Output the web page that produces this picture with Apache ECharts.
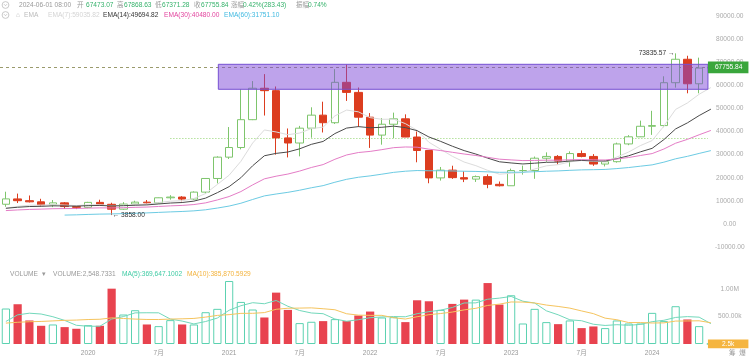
<!DOCTYPE html>
<html><head><meta charset="utf-8">
<script src="https://cdn.jsdelivr.net/npm/echarts@6/dist/echarts.min.js"></script>
<style>html,body{margin:0;padding:0;background:#fff}#c{width:753px;height:363px}</style>
</head><body><div id="c"></div>
<script>
// ---------- data ----------
const months = ['2019-06','2019-07','2019-08','2019-09','2019-10','2019-11','2019-12',
'2020-01','2020-02','2020-03','2020-04','2020-05','2020-06','2020-07','2020-08','2020-09','2020-10','2020-11','2020-12',
'2021-01','2021-02','2021-03','2021-04','2021-05','2021-06','2021-07','2021-08','2021-09','2021-10','2021-11','2021-12',
'2022-01','2022-02','2022-03','2022-04','2022-05','2022-06','2022-07','2022-08','2022-09','2022-10','2022-11','2022-12',
'2023-01','2023-02','2023-03','2023-04','2023-05','2023-06','2023-07','2023-08','2023-09','2023-10','2023-11','2023-12',
'2024-01','2024-02','2024-03','2024-04','2024-05','2024-06'];
const opens = [8545,10854,10085,9588,8289,9140,7540,7195,9351,8523,6412,8620,9448,9138,11335,11649,10776,13791,19695,28923,33092,45134,58739,57697,37253,35045,41461,47100,43820,61300,56950,46216,38466,43160,45510,37630,31801,19942,23297,20048,19422,20491,17165,16541,23125,23141,28465,29233,27210,30472,29232,25941,26962,34640,37724,42283,42580,61131,71281,60672,67473.07];
const closes = [10855,10085,9587,8289,9140,7541,7195,9352,8523,6410,8620,9448,9138,11335,11649,10776,13791,19695,28923,33092,45135,58740,57694,37253,35045,41461,47100,43824,61299,56950,46216,38466,43160,45510,37630,31801,19942,23293,20050,19422,20491,17164,16542,23125,23141,28465,29233,27210,30472,29232,25941,26962,34639,37724,42283,42580,61130,71280,60672,67472.41,67755.84];
const lows = [7444,9072,9320,7710,7300,6515,6435,6871,8445,3858,6150,8117,8833,8893,10518,9825,10374,13195,17572,28130,32296,44950,46930,30000,28805,29278,37332,39600,43283,53256,42000,32917,34322,37155,37578,26700,17622,18781,19520,18125,18190,15476,16256,16499,21351,19549,26942,25811,24800,28861,25166,24901,26538,34097,37617,38555,41884,59005,56552,56552,67371.28];
const highs = [13970,13147,12325,10905,10370,9513,7750,9578,10500,9188,9460,10067,10380,11444,12468,12050,14100,19863,29300,41950,58352,61844,64854,59500,41330,42448,50500,52920,67000,69000,59053,47990,45821,48189,47444,40023,31986,24668,25211,22799,20988,21480,18387,23960,25250,29184,31000,29820,31431,31804,30244,27484,35198,38450,44729,48969,63913,73835.57,72797,71979,67868.63];
const ema7 = [6800,7621,8113,8157,8403,8187,7939,8292,8350,7865,8054,8403,8587,9274,9868,10095,11019,13188,17122,21115,27120,35025,40692,39832,38635,39342,41282,41918,46763,49310,48536,46018,45303,45355,43424,40518,35374,32354,29278,26814,25233,23216,21547,21942,22242,23798,25157,25670,26871,27461,27081,27051,28948,31142,33927,36090,42350,49583,52355,56134,59035.82];
const ema14 = [6800,7238,7551,7649,7848,7807,7725,7942,8019,7805,7914,8119,8255,8666,9064,9292,9892,11199,13562,16166,20028,25189,29523,30554,31153,32527,34470,35717,39128,41504,42132,41643,41845,42334,41707,40386,37660,35745,33652,31755,30253,28508,26913,26408,25972,26304,26694,26763,27257,27520,27310,27264,28247,29510,31213,32728,36515,41150,43753,46915,49694.82];
const ema30 = [5800,6076,6303,6431,6606,6666,6700,6871,6978,6941,7049,7204,7329,7587,7849,8038,8409,9137,10414,11877,14023,16908,19540,20683,21610,22891,24453,25703,28000,29868,30923,31410,32168,33029,33326,33228,32371,31785,31028,30279,29647,28842,28048,27730,27434,27501,27613,27587,27773,27867,27743,27693,28141,28759,29632,30467,32445,34951,36610,38603,40480.00];
const ema60 = ['-','-','-','-','-',3850,3960,4137,4281,4351,4491,4653,4800,5014,5231,5413,5687,6146,6893,7752,8978,10609,12154,12976,13700,14610,15676,16598,18064,19339,20220,20818,21551,22336,22837,23131,23027,23036,22938,22822,22745,22562,22365,22390,22414,22612,22830,22974,23220,23416,23499,23612,23974,24425,25010,25586,26752,28212,29277,30531,31751.10];
const volumes = [645000,723000,428000,331000,355000,307000,277000,343000,331000,1006000,536000,614000,355000,325000,434000,355000,355000,578000,639000,1145000,765000,627000,482000,934000,620000,380000,404000,416000,452000,416000,518000,590000,482000,488000,398000,795000,777000,620000,729000,807000,807000,1108000,717000,886000,373000,639000,398000,361000,428000,289000,319000,289000,428000,373000,373000,566000,416000,687000,446000,325000,2548.7331];
const volMA5 = [410000,530000,560000,545000,496000,429000,340000,323000,323000,453000,499000,566000,568000,567000,453000,417000,365000,409000,472000,614000,696000,751000,732000,791000,686000,609000,564000,551000,454000,414000,441000,478000,492000,499000,495000,551000,588000,616000,664000,746000,748000,814000,834000,865000,778000,745000,603000,531000,440000,423000,359000,337000,351000,340000,356000,406000,431000,483000,498000,488000,369647.1002];
const volMA10 = [380000,395000,405000,410000,420000,430000,435000,445000,450000,475000,464000,453000,446000,445000,453000,458000,465000,489000,520000,534000,557000,558000,571000,631000,650000,653000,657000,641000,623000,550000,525000,521000,521000,477000,454000,496000,533000,554000,581000,620000,649000,701000,725000,764000,762000,746000,708000,683000,652000,601000,552000,470000,441000,390000,390000,382000,384000,417000,419000,422000,385870.5929];
// user drawings (data space): rectangle, support line
const boxX = [18.08, 59.75], boxY = [58290, 69100];
const supportStartX = 14, supportY = 36900, drawEndX = 59.75;

// ---------- styling ----------
const FONT = "'Liberation Sans', Arial, 'Noto Sans CJK SC', sans-serif";
const FS = 6.6;
const RED = '#dc3d1f', GREEN = '#7ec56c', VRED = '#e8434f', VGREEN = '#5cd2b1';
const last = months.length - 1;

const candleData = months.map((m, i) => [opens[i], closes[i], lows[i], highs[i]]);
const volData = volumes.map((v, i) => ({
  value: v,
  itemStyle: closes[i] >= opens[i] ? {color: '#fff', borderColor: VGREEN, borderWidth: 1} : {color: VRED}
}));

function T(text, left, top, color) {
  return {text, left, top, padding: 0, textStyle: {fontSize: FS, fontWeight: 'normal', color, fontFamily: FONT, lineHeight: 9}};
}
const G = '#999', V = '#35b26b';
const titles = [
  T('2024-06-01 08:00', 19, 0.5, G),
  T('开', 77, 0.5, G), T(opens[last].toFixed(2), 86, 0.5, V),
  T('高', 117, 0.5, G), T(highs[last].toFixed(2), 124, 0.5, V),
  T('低', 155, 0.5, G), T(lows[last].toFixed(2), 162, 0.5, V),
  T('收', 194, 0.5, G), T(closes[last].toFixed(2), 201, 0.5, V),
  T('涨幅', 231, 0.5, G), T('0.42%(283.43)', 243, 0.5, V),
  T('振幅', 296, 0.5, G), T('0.74%', 308, 0.5, V),
  T('⌂', 16, 10.5, '#bbb'), T('EMA', 24, 10.5, '#bbb'),
  T('EMA(7):' + ema7[last].toFixed(2), 48, 10.5, '#d4d4d4'),
  T('EMA(14):' + ema14[last].toFixed(2), 103, 10.5, '#333'),
  T('EMA(30):' + ema30[last].toFixed(2), 164, 10.5, '#e2449e'),
  T('EMA(60):' + ema60[last].toFixed(2), 224, 10.5, '#3fb9e0'),
  T('VOLUME', 10, 270, G), T('▾', 42, 270, G),
  T('VOLUME:2,548.7331', 53, 270, G),
  T('MA(5):369,647.1002', 122, 270, '#3fcba4'),
  T('MA(10):385,870.5929', 187, 270, '#f3b33d'),
  T('筹  爆', 729, 348.5, G)
];
const icons = [0, 1].map(k => ({
  type: 'group', children: [
    {type: 'circle', shape: {cx: 5.5, cy: 5 + k * 10, r: 3.4}, style: {fill: 'none', stroke: '#bbb', lineWidth: 0.8}},
    {type: 'polyline', shape: {points: [[4, 4.2 + k * 10], [5.5, 5.7 + k * 10], [7, 4.2 + k * 10]]}, style: {fill: 'none', stroke: '#bbb', lineWidth: 0.8}}
  ]
}));

const yLbl = {fontSize: FS, color: '#aaa', fontFamily: FONT, align: 'center', margin: 13};
const lineS = (name, data, color) => ({
  name, type: 'line', data, xAxisIndex: 0, yAxisIndex: 0, symbol: 'none', showSymbol: false, z: 3,
  lineStyle: {width: 1, color}, itemStyle: {color}, silent: true
});

const option = {
  animation: false,
  backgroundColor: '#fff',
  title: titles,
  graphic: icons,
  grid: [
    {left: 0, right: 36.25, top: 16, height: 231.1, outerBoundsMode: 'none'},
    {left: 0, right: 36.25, top: 278, height: 66, outerBoundsMode: 'none'}
  ],
  xAxis: [
    {type: 'category', gridIndex: 0, data: months, boundaryGap: true, axisLine: {show: false}, axisTick: {show: false}, axisLabel: {show: false}, splitLine: {show: false}},
    {type: 'category', gridIndex: 1, data: months, boundaryGap: true, axisLine: {show: false}, axisTick: {show: false}, splitLine: {show: false},
      axisLabel: {fontSize: FS, color: G, fontFamily: FONT, margin: 6,
        interval: (idx, val) => idx >= 7 && (val.endsWith('-01') || val.endsWith('-07')),
        formatter: val => val.endsWith('-01') ? val.slice(0, 4) : '7月'}},
    {type: 'value', gridIndex: 0, min: -0.5, max: last + 0.5, show: false},
    {type: 'value', gridIndex: 1, min: -0.5, max: last + 0.5, show: false}
  ],
  yAxis: [
    {type: 'value', gridIndex: 0, position: 'right', min: -10000, max: 90000, interval: 10000,
      axisLine: {show: false}, axisTick: {show: false}, splitLine: {show: false},
      axisLabel: Object.assign({formatter: v => v.toFixed(2)}, yLbl)},
    {type: 'value', gridIndex: 1, position: 'right', min: 0, max: 1200000, interval: 500000,
      axisLine: {show: false}, axisTick: {show: false}, splitLine: {show: false},
      axisLabel: Object.assign({showMinLabel: false, showMaxLabel: false,
        formatter: v => v >= 1e6 ? (v / 1e6).toFixed(2) + 'M' : (v / 1e3).toFixed(2) + 'k'}, yLbl)}
  ],
  series: [
    {
      name: 'price line', type: 'line', xAxisIndex: 2, yAxisIndex: 0, data: [], z: 1, silent: true,
      markLine: {
        symbol: ['none', 'none'], silent: true, animation: false, z: 1,
        lineStyle: {type: [3, 3], color: '#9a9a6c', width: 1},
        label: {show: false},
        data: [[{coord: [-0.5, closes[last]]}, {coord: [drawEndX, closes[last]]}]]
      }
    },
    {
      name: 'support', type: 'line', xAxisIndex: 2, yAxisIndex: 0, data: [], z: 1, silent: true,
      markLine: {
        symbol: ['none', 'none'], silent: true, animation: false, z: 1,
        lineStyle: {type: [1, 2], color: '#8fd36c', width: 1},
        label: {show: false},
        data: [[{coord: [supportStartX, supportY]}, {coord: [drawEndX, supportY]}]]
      }
    },
    {
      name: 'K', type: 'candlestick', xAxisIndex: 0, yAxisIndex: 0, data: candleData, barWidth: '70%', z: 2,
      itemStyle: {color: '#fff', color0: RED, borderColor: GREEN, borderColor0: RED, borderWidth: 1},
      markPoint: {
        symbol: 'circle', symbolSize: 0, animation: false,
        label: {show: true, fontSize: FS, color: '#333', fontFamily: FONT, distance: 1},
        data: [
          {coord: [months[57], highs[57]], value: highs[57], label: {position: 'left', formatter: highs[57].toFixed(2) + ' →'}},
          {coord: [months[9], lows[9]], value: lows[9], label: {position: 'right', formatter: '← ' + lows[9].toFixed(2)}}
        ]
      }
    },
    lineS('EMA7', ema7, '#dcdcdc'),
    lineS('EMA14', ema14, '#4a4a4a'),
    lineS('EMA30', ema30, '#e47cc6'),
    lineS('EMA60', ema60, '#6ccbe3'),
    {
      name: 'box', type: 'line', xAxisIndex: 2, yAxisIndex: 0, data: [], z: 10, silent: true,
      markArea: {
        silent: true, animation: false, z: 10,
        itemStyle: {color: 'rgba(125,72,215,0.5)', borderColor: '#7650d2', borderWidth: 1},
        data: [[{coord: [boxX[0], boxY[1]]}, {coord: [boxX[1], boxY[0]]}]]
      }
    },
    {
      name: 'price label', type: 'line', xAxisIndex: 2, yAxisIndex: 0, data: [], z: 12, silent: true,
      markLine: {
        symbol: ['none', 'none'], silent: true, animation: false, z: 12,
        lineStyle: {color: 'rgba(0,0,0,0)', width: 0},
        label: {show: true, position: 'end', formatter: closes[last].toFixed(2), color: '#fff', backgroundColor: '#3aa63c',
          padding: [3, 6, 2, 7], fontSize: FS, fontFamily: FONT, distance: 0},
        data: [[{coord: [-0.5, closes[last]]}, {coord: [drawEndX, closes[last]]}]]
      }
    },
    {
      name: 'VOLUME', type: 'bar', xAxisIndex: 1, yAxisIndex: 1, data: volData, barWidth: '70%', silent: true
    },
    {name: 'MA5', type: 'line', xAxisIndex: 1, yAxisIndex: 1, data: volMA5, symbol: 'none', lineStyle: {width: 1, color: '#72d8bb'}, silent: true, z: 3},
    {name: 'MA10', type: 'line', xAxisIndex: 1, yAxisIndex: 1, data: volMA10, symbol: 'none', lineStyle: {width: 1, color: '#f5c45e'}, silent: true, z: 3},
    {
      name: 'vol label', type: 'line', xAxisIndex: 3, yAxisIndex: 1, data: [], z: 4, silent: true,
      markLine: {
        symbol: ['none', 'none'], silent: true, animation: false, z: 12,
        lineStyle: {color: 'rgba(0,0,0,0)', width: 0},
        label: {show: true, position: 'end', formatter: '2.5k', color: '#fff', backgroundColor: '#f5b540',
          padding: [1, 14, 1, 14], fontSize: FS, fontFamily: FONT, distance: 0},
        data: [[{coord: [-0.5, volumes[last]]}, {coord: [drawEndX, volumes[last]]}]]
      }
    }
  ]
};
const chart = echarts.init(document.getElementById('c'));
chart.setOption(option);
</script>
</body></html>
